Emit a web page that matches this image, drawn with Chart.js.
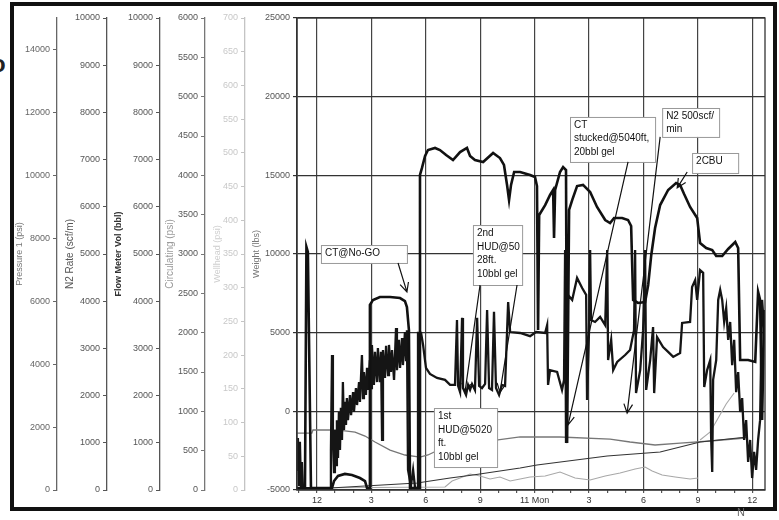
<!DOCTYPE html>
<html>
<head>
<meta charset="utf-8">
<title>CT job log</title>
<script src="https://cdn.jsdelivr.net/npm/chart.js@4.4.1/dist/chart.umd.min.js"></script>
<style>
  html, body { margin: 0; padding: 0; background: #fff; }
  body { width: 779px; height: 520px; position: relative; overflow: hidden; font-family: "Liberation Sans", Arial, sans-serif; }
  #frame { position: absolute; left: 10px; top: 2px; width: 759px; height: 501px; border: 4px solid #111; background: #fff; }
  #frame canvas { display: block; }
  .edge { position: absolute; color: #222; }
</style>
</head>
<body>
<div class="edge" style="left:-9px;top:50px;font-size:24px;font-weight:bold;">o</div>
<div id="frame"><canvas id="logChart" width="759" height="501"></canvas></div>
<div class="edge" style="left:737px;top:506px;font-size:11px;color:#666;">N</div>
<script>
// hours counted from noon; "11 Mon" is midnight (hour 12)
const xTickHours = [0, 3, 6, 9, 12, 15, 18, 21, 24];
const xTickLabels = ['12', '3', '6', '9', '11 Mon', '3', '6', '9', '12'];
const pressureTicks = [0, 2000, 4000, 6000, 8000, 10000, 12000, 14000];

// Weight (lbs)
const weightHours = [-1.10, -0.66, -0.58, -0.50, -0.33, 0.83, 0.94, 1.16, 1.54, 1.93,
  2.37, 2.65, 2.76, 2.87, 2.92, 3.09, 3.47, 4.03, 4.58, 4.85,
  4.96, 5.07, 5.13, 5.63, 5.68, 5.79, 5.96, 6.12, 6.51, 6.78,
  7.12, 7.50, 7.89, 8.27, 8.44, 8.71, 9.16, 9.71, 10.09, 10.31,
  10.48, 10.59, 10.70, 10.87, 11.20, 11.75, 12.02, 12.13, 12.19, 12.25,
  12.58, 12.85, 13.02, 13.07, 13.13, 13.40, 13.57, 13.73, 13.79, 13.90,
  14.07, 14.34, 14.67, 15.06, 15.44, 15.89, 16.16, 16.38, 16.82, 17.15,
  17.32, 17.43, 17.70, 18.09, 18.26, 18.43, 18.64, 18.92, 19.36, 19.80,
  20.02, 20.24, 20.57, 20.96, 21.12, 21.46, 21.79, 22.01, 22.34, 22.67,
  23.06, 23.22, 23.33, 23.77, 24.16, 24.32, 24.43, 24.54, 24.66];
const weightLbs = [-4870, -4870, 10450, 10130, -4870, -4870, -4430, -4110, -3980, -4050,
  -4240, -4430, -4870, -4870, 6760, 7080, 7270, 7270, 7200, 7010,
  6630, 5170, -4870, -4870, 15020, 15470, 16230, 16610, 16740, 16610,
  16290, 15970, 16480, 16740, 16230, 15970, 15850, 16420, 16100, 15660,
  14390, 13430, 14390, 15210, 15210, 15020, 14890, 14320, 5170, 12480,
  13110, 13750, 14070, 11020, 14070, 15210, 15530, 15340, -2010, 12800,
  13430, 14320, 14390, 13940, 12990, 12160, 11970, 12290, 12290, 12160,
  11780, 7080, 6890, 6950, 8030, 9940, 11650, 13110, 14070, 14510,
  14390, 13810, 12990, 12290, 10700, 10380, 10250, 9870, 9870, 10320,
  10760, 10380, 3260, 3260, 3140, 7590, 7080, -550, 6440];

// Pressure 1 (psi)
const pressureHours = [-1.10, -1.05, -0.99, -0.94, -0.88, -0.83, -0.77, 0.72, 0.77, 0.83,
  0.88, 0.94, 0.99, 1.05, 1.10, 1.16, 1.21, 1.27, 1.32, 1.38,
  1.43, 1.49, 1.54, 1.60, 1.65, 1.71, 1.82, 1.88, 1.99, 2.04,
  2.15, 2.21, 2.32, 2.37, 2.48, 2.54, 2.59, 2.70, 2.76, 2.81,
  2.92, 2.98, 3.03, 3.14, 3.20, 3.31, 3.36, 3.47, 3.53, 3.59,
  3.64, 3.75, 3.81, 3.92, 3.97, 4.08, 4.14, 4.25, 4.36, 4.41,
  4.52, 4.58, 4.69, 4.74, 4.85, 4.91, 4.96, 5.02, 5.18, 5.30,
  5.41, 5.52, 5.57, 5.74, 5.85, 6.01, 6.23, 6.62, 7.06, 7.34,
  7.61, 7.72, 7.78, 7.89, 8.00, 8.05, 8.22, 8.33, 8.44, 8.55,
  8.71, 8.83, 8.94, 9.10, 9.27, 9.38, 9.49, 9.65, 9.76, 9.87,
  10.04, 10.20, 10.37, 10.54, 10.65, 11.20, 11.75, 12.08, 12.58, 12.69,
  12.74, 12.85, 13.24, 13.51, 13.62, 13.68, 13.73, 13.84, 14.07, 14.34,
  14.62, 14.84, 14.89, 15.00, 15.06, 15.11, 15.33, 15.61, 15.89, 16.00,
  16.05, 16.22, 16.33, 16.55, 16.99, 17.26, 17.48, 17.54, 17.59, 17.82,
  17.98, 18.09, 18.15, 18.37, 18.53, 18.59, 18.75, 19.08, 19.36, 19.64,
  20.02, 20.13, 20.57, 20.68, 20.85, 20.96, 21.12, 21.29, 21.35, 21.51,
  21.68, 21.73, 21.79, 21.84, 22.01, 22.12, 22.23, 22.34, 22.45, 22.56,
  22.67, 22.78, 22.89, 23.00, 23.11, 23.22, 23.33, 23.44, 23.55, 23.66,
  23.77, 23.88, 23.99, 24.10, 24.21, 24.32, 24.43, 24.54, 24.66];
const pressurePsi = [640, 1650, 130, 1530, 60, 890, 60, 60, 1270, 4290,
  1590, 570, 1910, 790, 2220, 1020, 2480, 1270, 2610, 1590,
  3430, 1910, 2800, 2070, 2920, 2220, 3020, 2380, 3110, 2480,
  3240, 2700, 3430, 2800, 4290, 2920, 3750, 3020, 3880, 3180,
  4130, 3240, 4610, 3340, 4390, 3430, 4510, 3430, 4390, 1590,
  4450, 3560, 4580, 3650, 4610, 3750, 4450, 3500, 5150, 3810,
  4770, 3880, 4830, 3970, 5020, 4130, 5080, 640, 130, 640,
  60, 60, 4990, 4990, 4610, 3880, 3690, 3560, 3500, 3340,
  3340, 5400, 3310, 3110, 5470, 3240, 3020, 3340, 3180, 3370,
  3180, 5470, 3310, 3240, 3370, 5720, 3240, 3180, 5660, 3240,
  3020, 3340, 3310, 5970, 5020, 4990, 4890, 5020, 4990, 5240,
  3340, 3810, 3750, 3180, 3500, 7630, 1490, 6200, 6040, 6740,
  6420, 6200, 2860, 5080, 7630, 5400, 5340, 5500, 5240, 7630,
  4130, 4770, 3810, 4070, 4290, 4450, 5080, 7630, 3080, 3810,
  5080, 7630, 3180, 4130, 5180, 3080, 4860, 4540, 4390, 4230,
  4350, 5310, 5340, 6450, 6670, 6040, 6990, 6900, 3270, 3810,
  4130, 1680, 570, 3500, 4130, 6040, 6360, 6040, 5340, 5780,
  4770, 5340, 3970, 4770, 3110, 3750, 2480, 2920, 1590, 2220,
  890, 1590, 380, 1210, 640, 1590, 2220, 6040, 5080];

// Circulating (psi)
const circHours = [-1.10, -0.28, -0.22, 1.10, 2.10, 2.65, 3.20, 4.03, 4.85, 5.68, 6.12,
  7.06, 8.44, 9.98, 11.20, 13.40, 16.16, 17.26, 18.64, 20.02, 21.68, 23.61];
const circPsi = [724, 724, 763, 763, 737, 686, 610, 508, 445, 419, 445,
  547, 610, 636, 674, 674, 648, 610, 572, 597, 623, 661];

// Flow Meter Vol (bbl)
const flowHours = [-1.10, 0.72, 5.52, 7.34, 8.60, 11.20, 12.13, 16.00, 18.92, 21.12, 23.72];
const flowBbl = [21, 42, 148, 254, 318, 466, 530, 720, 805, 1017, 1123];

// N2 Rate (scf/m)
const n2Hours = [-1.10, 7.06, 7.45, 7.89, 8.44, 8.99, 9.54, 10.09, 10.65, 11.20,
  11.75, 12.58, 13.40, 14.23, 15.06, 15.89, 16.71, 17.54, 18.09, 18.48,
  19.03, 19.75, 20.57, 21.01, 21.06, 21.12, 21.68, 22.12, 22.56, 23.00];
const n2Rate = [42, 64, 191, 254, 339, 297, 233, 275, 191, 233,
  275, 297, 381, 254, 212, 297, 360, 445, 487, 403,
  318, 275, 233, 254, null, 1060, 1229, 1526, 1822, 2055];

// call-out boxes: box = [start hour, top lbs, end hour, bottom lbs], arrows = [from h, from lbs, to h, to lbs]
const notes = [
  { text: ['CT@No-GO'], box: [0.22, 10570, 4.96, 9430], arrows: [[4.47, 9430, 4.96, 7590]] },
  { text: ['2nd', 'HUD@50', '28ft.', '10bbl gel'], box: [8.60, 11840, 11.31, 8030],
    arrows: [[8.99, 8030, 8.16, 1200], [11.03, 8030, 10.09, 1200]] },
  { text: ['1st', 'HUD@5020', 'ft.', '10bbl gel'], box: [6.45, 210, 9.93, -3540], arrows: [] },
  { text: ['CT', 'stucked@5040ft,', '20bbl gel'], box: [13.95, 18710, 18.64, 15850],
    arrows: [[17.15, 15850, 13.84, -870]] },
  { text: ['N2 500scf/', 'min'], box: [19.03, 19280, 22.17, 17440], arrows: [[18.92, 17440, 17.10, -110]] },
  { text: ['2CBU'], box: [20.68, 16420, 23.22, 15150], arrows: [[20.41, 15210, 19.86, 14200]] }
];

const family = '"Liberation Sans", Arial, sans-serif';

function toPoints(hours, values) {
  return hours.map((h, i) => ({ x: h, y: values[i] }));
}

function sideAxis(o) {
  const axis = {
    type: 'linear',
    position: 'left',
    min: o.min,
    max: o.max,
    weight: o.weight,
    afterFit: scale => { scale.width = o.width; },
    border: { display: true, color: o.line, width: 1.3, dash: o.dash || [] },
    grid: { drawOnChartArea: false, color: o.line, tickLength: 4 },
    ticks: {
      stepSize: o.step, includeBounds: false, autoSkip: false, padding: 3,
      color: o.labelColor, font: { size: 9, family: family },
      callback: v => String(v)
    },
    title: {
      display: true, text: o.title, color: o.titleColor,
      font: { size: o.titleSize || 9, family: family, weight: o.bold ? 'bold' : 'normal' },
      padding: { top: o.pad, bottom: 0 }
    }
  };
  if (o.tickValues) {
    axis.afterBuildTicks = scale => { scale.ticks = o.tickValues.map(v => ({ value: v })); };
  }
  return axis;
}

const notesPlugin = {
  id: 'notes',
  afterDatasetsDraw(chart) {
    const { ctx, chartArea } = chart;
    const x = chart.scales.x;
    const y = chart.scales.y;
    ctx.save();
    ctx.strokeStyle = '#333';
    ctx.lineWidth = 1.3;
    ctx.strokeRect(chartArea.left, chartArea.top, chartArea.right - chartArea.left, chartArea.bottom - chartArea.top);

    notes.forEach(n => {
      const x1 = x.getPixelForValue(n.box[0]);
      const y1 = y.getPixelForValue(n.box[1]);
      const x2 = x.getPixelForValue(n.box[2]);
      const y2 = y.getPixelForValue(n.box[3]);
      ctx.fillStyle = '#fff';
      ctx.fillRect(x1, y1, x2 - x1, y2 - y1);
      ctx.strokeStyle = '#999';
      ctx.lineWidth = 1;
      ctx.strokeRect(x1 + 0.5, y1 + 0.5, x2 - x1, y2 - y1);
      ctx.fillStyle = '#111';
      ctx.font = '10px ' + family;
      ctx.textBaseline = 'alphabetic';
      n.text.forEach((line, i) => {
        ctx.fillText(line, x1 + 4, y1 + 11 + i * 13.5);
      });

      n.arrows.forEach(a => {
        const ax = x.getPixelForValue(a[0]);
        const ay = y.getPixelForValue(a[1]);
        const bx = x.getPixelForValue(a[2]);
        const by = y.getPixelForValue(a[3]);
        const ang = Math.atan2(by - ay, bx - ax);
        ctx.strokeStyle = '#111';
        ctx.lineWidth = 1.2;
        ctx.beginPath();
        ctx.moveTo(ax, ay);
        ctx.lineTo(bx, by);
        ctx.moveTo(bx - 10 * Math.cos(ang - 0.45), by - 10 * Math.sin(ang - 0.45));
        ctx.lineTo(bx, by);
        ctx.lineTo(bx - 10 * Math.cos(ang + 0.45), by - 10 * Math.sin(ang + 0.45));
        ctx.stroke();
      });
    });
    ctx.restore();
  }
};

new Chart(document.getElementById('logChart'), {
  type: 'line',
  data: {
    datasets: [
      { label: 'Weight', data: toPoints(weightHours, weightLbs), yAxisID: 'y',
        borderColor: '#111', borderWidth: 2.6 },
      { label: 'Pressure 1', data: toPoints(pressureHours, pressurePsi), yAxisID: 'yP',
        borderColor: '#151515', borderWidth: 2.3 },
      { label: 'Flow Meter Vol', data: toPoints(flowHours, flowBbl), yAxisID: 'yFlow',
        borderColor: '#333', borderWidth: 1.2 },
      { label: 'Circulating', data: toPoints(circHours, circPsi), yAxisID: 'yCirc',
        borderColor: '#777', borderWidth: 1.3 },
      { label: 'N2 Rate', data: toPoints(n2Hours, n2Rate), yAxisID: 'yN2',
        borderColor: '#a8a8a8', borderWidth: 1.1, spanGaps: false }
    ]
  },
  options: {
    responsive: false,
    animation: false,
    layout: { padding: { left: 0, right: 8, top: 12, bottom: 0 } },
    elements: { point: { radius: 0 }, line: { tension: 0 } },
    plugins: { legend: { display: false }, tooltip: { enabled: false } },
    scales: {
      x: {
        type: 'linear',
        min: -1.1,
        max: 24.7,
        afterFit: scale => { scale.height = 17; },
        border: { display: true, color: '#333', width: 1.3 },
        grid: {
          color: c => (c.tick && Math.round(c.tick.value) % 3 === 0) ? '#444' : 'rgba(0,0,0,0)',
          lineWidth: 1.2,
          tickColor: '#555',
          tickLength: 3
        },
        ticks: {
          stepSize: 1, includeBounds: false, autoSkip: false, maxRotation: 0, padding: 2,
          color: '#333', font: { size: 9, family: family },
          callback: v => {
            const i = xTickHours.indexOf(v);
            return i < 0 ? '' : xTickLabels[i];
          }
        }
      },
      y: {
        type: 'linear',
        position: 'left',
        min: -5000,
        max: 25000,
        weight: 1,
        afterFit: scale => { scale.width = 52; },
        border: { display: true, color: '#333', width: 1.4 },
        grid: { color: '#333', lineWidth: 1.2, tickLength: 4 },
        ticks: { stepSize: 5000, autoSkip: false, padding: 3, color: '#555',
          font: { size: 9, family: family }, callback: v => String(v) },
        title: { display: true, text: 'Weight (lbs)', color: '#777',
          font: { size: 9, family: family }, padding: { top: 6, bottom: 0 } }
      },
      yWell: sideAxis({ min: 0, max: 700, step: 50, weight: 2, width: 40, line: '#c4c4c4',
        labelColor: '#c8c8c8', title: 'Wellhead (psi)', titleColor: '#cfcfcf', pad: 7 }),
      yCirc: sideAxis({ min: 0, max: 6000, step: 500, weight: 3, width: 45, line: '#777', dash: [2, 2],
        labelColor: '#555', title: 'Circulating (psi)', titleColor: '#9a9a9a', titleSize: 10, pad: 4 }),
      yFlow: sideAxis({ min: 0, max: 10000, step: 1000, weight: 4, width: 53, line: '#555',
        labelColor: '#555', title: 'Flow Meter Vol (bbl)', titleColor: '#333', bold: true, pad: 6 }),
      yN2: sideAxis({ min: 0, max: 10000, step: 1000, weight: 5, width: 50, line: '#555',
        labelColor: '#555', title: 'N2 Rate (scf/m)', titleColor: '#555', titleSize: 10, pad: 7 }),
      yP: sideAxis({ min: 0, max: 15000, step: 2000, weight: 6, width: 43, line: '#666',
        labelColor: '#666', title: 'Pressure 1 (psi)', titleColor: '#777', pad: 0,
        tickValues: pressureTicks })
    }
  },
  plugins: [notesPlugin]
});
</script>
</body>
</html>
